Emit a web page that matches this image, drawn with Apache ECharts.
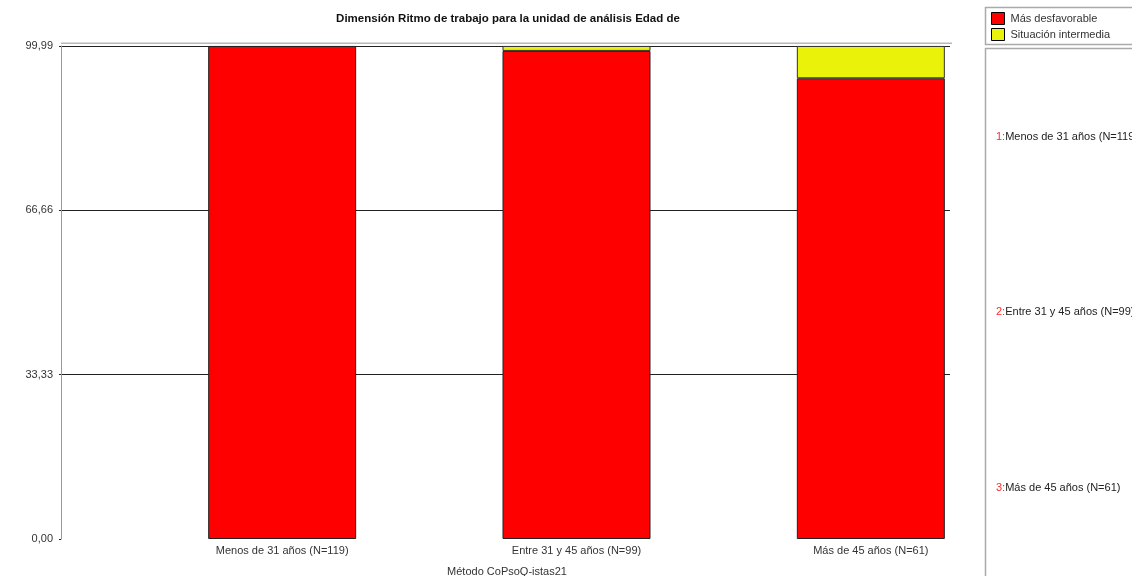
<!DOCTYPE html>
<html>
<head>
<meta charset="utf-8">
<script src="https://cdn.jsdelivr.net/npm/echarts@6/dist/echarts.min.js"></script>
<style>
  html, body { margin: 0; padding: 0; background: #fff; }
  #chart { width: 1132px; height: 576px; }
</style>
</head>
<body>
<div id="chart"></div>
<script>
// Age groups of the analysis unit
const categories = ['Menos de 31 años (N=119)', 'Entre 31 y 45 años (N=99)', 'Más de 45 años (N=61)'];
// Percentages per exposure level
const masDesfavorable = [100, 98.99, 93.44];
const situacionIntermedia = [0, 1.01, 6.56];
const seriesNames = ['Más desfavorable', 'Situación intermedia'];
// Value axis ticks
const yTicks = [0, 33.33, 66.66, 99.99];

const title = 'Dimensión Ritmo de trabajo para la unidad de análisis Edad de';
const footer = 'Método CoPsoQ-istas21';

const FONT = '"Liberation Sans", Arial, sans-serif';
const fmt = v => v.toFixed(2).replace('.', ',');

const chart = echarts.init(document.getElementById('chart'), null, { renderer: 'canvas' });

// Numbered group list on the right-hand panel
const sideLabels = categories.map((c, i) => ({
  type: 'text',
  left: 996,
  top: 131 + i * 175.5,
  style: {
    text: '{n|' + (i + 1) + ':}{t|' + c + '}',
    rich: {
      n: { fill: '#ff2a2a', font: '11px ' + FONT },
      t: { fill: '#222', font: '11px ' + FONT }
    }
  }
}));

const option = {
  animation: false,
  backgroundColor: '#fff',
  textStyle: { fontFamily: FONT },
  title: {
    text: title,
    left: 503,
    textAlign: 'center',
    top: 8,
    textStyle: { fontSize: 11.5, fontWeight: 'bold', color: '#111', fontFamily: FONT }
  },
  legend: {
    data: seriesNames,
    orient: 'vertical',
    left: 991,
    top: 12,
    padding: 0,
    itemWidth: 13,
    itemHeight: 12,
    itemGap: 3,
    icon: 'rect',
    itemStyle: { borderColor: '#000', borderWidth: 1 },
    textStyle: { fontSize: 11, color: '#333', fontFamily: FONT, padding: [0, 0, 0, 1] }
  },
  grid: [
    // frame grid: value scale, gridlines and tick labels
    { left: 61, right: 182, top: 46, bottom: 37, containLabel: false },
    // bar grid
    { left: 135, right: 114, top: 46, bottom: 37, containLabel: false }
  ],
  xAxis: [
    { type: 'category', gridIndex: 0, data: categories, show: false },
    {
      type: 'category', gridIndex: 1, data: categories,
      axisLine: { show: false }, axisTick: { show: false },
      axisLabel: { fontSize: 11, color: '#333', margin: 6, fontFamily: FONT }
    }
  ],
  yAxis: [
    {
      type: 'value', gridIndex: 0, min: 0, max: 99.99, interval: 33.33,
      axisLine: { show: true, lineStyle: { color: '#999', width: 1 } },
      axisTick: { show: true, length: 2, lineStyle: { color: '#222' } },
      axisLabel: {
        fontSize: 11, color: '#333', margin: 8, fontFamily: FONT,
        formatter: v => {
          const t = yTicks.find(x => Math.abs(x - v) < 0.001);
          return t === undefined ? '' : fmt(t);
        }
      },
      splitLine: { show: true, showMinLine: false, lineStyle: { color: '#222', width: 1 } }
    },
    {
      type: 'value', gridIndex: 1, min: 0, max: 99.99, interval: 33.33,
      show: false, splitLine: { show: false }
    }
  ],
  series: [
    {
      name: seriesNames[0], type: 'bar', stack: 'total',
      xAxisIndex: 1, yAxisIndex: 1, barWidth: 148,
      itemStyle: { color: '#ff0000', borderColor: '#222', borderWidth: 1 },
      data: masDesfavorable
    },
    {
      name: seriesNames[1], type: 'bar', stack: 'total',
      xAxisIndex: 1, yAxisIndex: 1, barWidth: 148,
      itemStyle: { color: '#eaf20a', borderColor: '#333', borderWidth: 1 },
      data: situacionIntermedia.map(v => (v > 0 ? v : null))
    }
  ],
  graphic: [
    // gray rule above the top gridline
    { type: 'rect', shape: { x: 61, y: 42.5, width: 891, height: 1.5 }, style: { fill: '#b8b8b8' }, silent: true },
    // right-hand panels
    { type: 'rect', shape: { x: 985.5, y: 7.5, width: 200, height: 37 }, style: { fill: 'none', stroke: '#aaa', lineWidth: 1.5 }, silent: true },
    { type: 'rect', shape: { x: 985.5, y: 48.5, width: 200, height: 600 }, style: { fill: 'none', stroke: '#aaa', lineWidth: 1.5 }, silent: true },
    {
      type: 'text', x: 507, y: 566,
      style: { text: footer, font: '11px ' + FONT, fill: '#333', textAlign: 'center', textVerticalAlign: 'top' }
    }
  ].concat(sideLabels)
};

chart.setOption(option);
</script>
</body>
</html>
